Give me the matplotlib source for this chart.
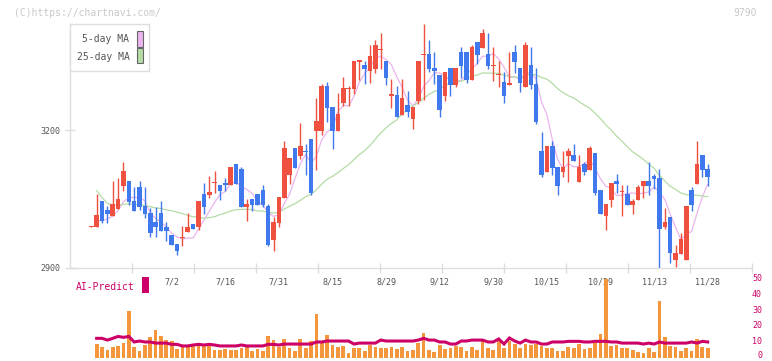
import numpy as np
import pandas as pd
import matplotlib
matplotlib.use("Agg")
import matplotlib.pyplot as plt
from matplotlib.patches import Rectangle
from matplotlib import transforms

# ---------------- data ----------------
opens = [2989, 2989, 3045, 3026, 3013, 3028, 3079, 3089, 3045, 3076,
         3034, 3019, 2999, 3019, 2989, 2971, 2952, 2965, 2978, 2995,
         2989, 3060, 3058, 3084, 3080, 3085, 3080, 3126, 3115, 3032,
         3049, 3060, 3069, 3034, 2960, 2997, 3052, 3102, 3161, 3143,
         3154, 3180, 3198, 3198, 3296, 3250, 3198, 3259, 3290, 3289,
         3349, 3341, 3328, 3333, 3375, 3350, 3275, 3276, 3233, 3254,
         3224, 3263, 3364, 3365, 3335, 3320, 3274, 3335, 3298, 3370,
         3370, 3309, 3392, 3378, 3365, 3340, 3319, 3304, 3299, 3370,
         3335, 3294, 3341, 3300, 3154, 3108, 3165, 3119, 3108, 3143,
         3145, 3087, 3126, 3113, 3150, 3069, 3013, 3047, 3089, 3064,
         3060, 3037, 3047, 3078, 3089, 3100, 3095, 2989, 3010, 2917,
         2929, 2917, 3069, 3082, 3145, 3115]
highs = [2991, 3060, 3045, 3034, 3089, 3095, 3130, 3089, 3076, 3089,
         3076, 3030, 3032, 3045, 3000, 2971, 2952, 2991, 3019, 2995,
         3045, 3085, 3100, 3111, 3080, 3095, 3119, 3126, 3119, 3049,
         3049, 3060, 3080, 3039, 3010, 3054, 3176, 3139, 3161, 3215,
         3170, 3180, 3270, 3300, 3304, 3250, 3280, 3315, 3296, 3350,
         3350, 3350, 3385, 3396, 3411, 3350, 3311, 3296, 3311, 3285,
         3250, 3350, 3431, 3396, 3370, 3320, 3326, 3335, 3335, 3381,
         3370, 3385, 3392, 3420, 3411, 3381, 3350, 3326, 3370, 3385,
         3335, 3392, 3381, 3335, 3195, 3165, 3176, 3119, 3154, 3161,
         3170, 3145, 3130, 3165, 3150, 3069, 3039, 3085, 3104, 3080,
         3080, 3049, 3080, 3089, 3130, 3104, 3115, 3030, 3010, 2949,
         2976, 3034, 3076, 3176, 3145, 3126]
lows = [2989, 2989, 2998, 2998, 3013, 3028, 3068, 3037, 3024, 3026,
        3009, 2966, 2966, 2981, 2959, 2949, 2928, 2947, 2978, 2984,
        2982, 3017, 3052, 3063, 3047, 3067, 3080, 3083, 3032, 3002,
        3024, 3037, 3033, 2947, 2936, 2989, 3052, 3082, 3117, 3137,
        3102, 3058, 3113, 3189, 3217, 3159, 3198, 3252, 3252, 3278,
        3309, 3300, 3302, 3324, 3333, 3298, 3248, 3228, 3233, 3228,
        3202, 3256, 3265, 3326, 3300, 3228, 3263, 3274, 3294, 3313,
        3302, 3309, 3344, 3378, 3333, 3307, 3294, 3259, 3299, 3324,
        3283, 3294, 3289, 3213, 3097, 3108, 3102, 3058, 3097, 3087,
        3132, 3087, 3102, 3113, 3058, 3017, 2982, 3032, 3063, 3013,
        3037, 3017, 3047, 3052, 3058, 3071, 2898, 2984, 2910, 2901,
        2929, 2917, 3023, 3082, 3097, 3078]
closes = [2990, 3015, 3002, 3018, 3039, 3049, 3111, 3044, 3024, 3033,
          3018, 2976, 2988, 2981, 2981, 2949, 2936, 2967, 2989, 2984,
          3045, 3032, 3065, 3086, 3067, 3080, 3119, 3083, 3032, 3039,
          3037, 3037, 3037, 2949, 2999, 3054, 3161, 3139, 3117, 3165,
          3152, 3063, 3219, 3296, 3248, 3198, 3235, 3291, 3291, 3350,
          3350, 3333, 3361, 3385, 3376, 3313, 3276, 3228, 3270, 3239,
          3250, 3350, 3365, 3333, 3328, 3243, 3326, 3298, 3335, 3339,
          3309, 3381, 3363, 3411, 3339, 3341, 3320, 3274, 3300, 3348,
          3302, 3385, 3298, 3217, 3102, 3165, 3117, 3078, 3119, 3154,
          3132, 3119, 3108, 3161, 3063, 3017, 3039, 3085, 3082, 3065,
          3037, 3045, 3076, 3089, 3078, 3093, 2984, 2999, 2932, 2932,
          2962, 3034, 3037, 3126, 3113, 3097]

# 25-day MA for the first days (needs history before the window)
ma25_head = [3068, 3053, 3040, 3037, 3037, 3038, 3039, 3038, 3037, 3035,
             3033, 3030, 3029, 3026, 3024, 3021, 3018, 3014, 3011, 3010,
             3008, 3009, 3011]

date_labels = ["7/2", "7/16", "7/31", "8/15", "8/29", "9/12", "9/30",
               "10/15", "10/29", "11/13", "11/28"]
date_label_idx = [15, 25, 35, 45, 55, 65, 75, 85, 95, 105, 115]

# volume (days 1..115)
volume = [8.6, 6.7, 4.8, 6.7, 7.4, 9.2, 29.4, 6.7, 4.2, 8.0,
          13.0, 17.4, 13.7, 11.1, 10.5, 5.5, 6.7, 8.0, 8.6, 7.4,
          8.6, 7.4, 4.8, 4.8, 5.5, 4.8, 4.8, 6.1, 8.0, 4.2,
          5.5, 4.2, 13.7, 11.1, 6.7, 11.8, 6.1, 4.2, 11.8, 6.1,
          10.5, 27.5, 9.2, 14.3, 8.0, 6.7, 7.4, 2.9, 6.1, 6.1,
          4.2, 8.0, 6.7, 6.1, 6.1, 6.7, 5.5, 6.7, 4.2, 4.8,
          9.2, 15.5, 4.8, 3.6, 8.0, 5.5, 6.1, 7.4, 6.7, 4.2,
          6.7, 4.8, 10.5, 6.1, 4.8, 10.5, 5.8, 10.5, 8.6, 6.1,
          8.6, 8.0, 8.6, 7.4, 6.1, 6.1, 4.2, 4.2, 6.7, 6.1,
          8.6, 5.5, 6.1, 9.2, 14.9, 49.6, 7.4, 8.0, 6.1, 6.1,
          4.8, 3.6, 2.9, 6.1, 3.6, 35.7, 13.0, 7.4, 6.7, 4.2,
          6.1, 4.2, 11.8, 6.7, 6.1]
ai_predict = [12.2, 12.2, 11.1, 12.2, 13.4, 12.8, 13.4, 9.9, 10.5, 9.9,
              9.9, 9.2, 9.2, 9.2, 8.4, 8.4, 7.4, 7.4, 8.0, 8.4,
              8.0, 8.4, 8.0, 7.4, 7.4, 7.4, 7.4, 8.0, 7.4, 7.4,
              7.4, 7.4, 8.4, 8.4, 8.0, 8.6, 8.6, 8.6, 8.6, 8.6,
              8.6, 9.9, 9.9, 10.5, 10.5, 10.5, 10.5, 10.5, 8.6, 9.2,
              9.2, 9.2, 9.2, 11.1, 10.5, 10.5, 10.5, 10.5, 10.5, 10.5,
              11.1, 12.2, 11.1, 11.1, 9.9, 9.9, 8.6, 8.6, 10.5, 10.5,
              11.1, 11.1, 11.1, 9.9, 9.9, 11.8, 8.6, 12.4, 10.5, 9.2,
              11.1, 9.9, 9.9, 8.6, 8.6, 9.9, 9.9, 9.9, 10.3, 10.3,
              10.3, 9.9, 9.9, 10.3, 10.3, 10.3, 9.9, 9.9, 9.2, 9.2,
              9.2, 9.2, 8.6, 9.2, 8.6, 9.9, 9.2, 9.2, 9.2, 9.2,
              9.2, 9.9, 9.2, 10.3, 9.9]
vol_ticks = [0, 10, 20, 30, 40, 50]
price_ticks = [2900, 3200]

# ---------------- styling ----------------
RED = "#F05040"
BLUE = "#4078EE"
PINK = "#EAB4EE"
GREEN = "#B4DCA4"
ORANGE = "#F4963C"
MAGENTA = "#CC0066"
AXIS = "#DDDDDD"
TXT = "#555555"
MONO = "DejaVu Sans Mono"

W, H = 772, 361
fig = plt.figure(figsize=(W / 100, H / 100), dpi=100)


def fx(x):
    return x / W


def fy(y):
    return 1 - y / H


# pixel geometry of the plot area
PX_LEFT, PX_RIGHT = 70.0, 752.3
PX_TOP, PX_BOT = 24.3, 267.7
PX_FIRST, PX_STEP = 91.3, 5.36
xlim = ((PX_LEFT - PX_FIRST) / PX_STEP, (PX_RIGHT - PX_FIRST) / PX_STEP)

ax = fig.add_axes([fx(PX_LEFT), fy(PX_BOT), fx(PX_RIGHT) - fx(PX_LEFT),
                   fy(PX_TOP) - fy(PX_BOT)])
ax.set_xlim(*xlim)
ax.set_ylim(2900, 2900 + (PX_BOT - PX_TOP) / 0.459)

o = np.array(opens, float)
h = np.array(highs, float)
l = np.array(lows, float)
c = np.array(closes, float)
idx = np.arange(len(c))
up = c >= o
cols = np.where(up, RED, BLUE)

# moving averages
cs = pd.Series(c)
ma5 = cs.rolling(5, min_periods=1).mean().to_numpy()
ma25 = cs.rolling(25).mean().to_numpy()
ma25_full = np.concatenate([np.array(ma25_head, float), ma25[24:]])
ax.plot(idx[1:], ma5[1:], color=PINK, lw=0.9, zorder=1)
ax.plot(idx[1:], ma25_full, color=GREEN, lw=0.9, zorder=1)

# candles
ax.vlines(idx, l, h, colors=cols, lw=1.0, zorder=2)
body_bot = np.minimum(o, c)
body_h = np.maximum(np.abs(c - o), 2.5)
ax.bar(idx, body_h, bottom=body_bot, width=0.86, color=cols, linewidth=0,
       zorder=3)

for s in ["top", "right"]:
    ax.spines[s].set_visible(False)
for s in ["left", "bottom"]:
    ax.spines[s].set_color(AXIS)
    ax.spines[s].set_linewidth(1.0)

ax.set_yticks(price_ticks)
ax.set_yticklabels([str(t) for t in price_ticks], fontfamily=MONO,
                   fontsize=6, color=TXT)
ax.tick_params(axis="y", direction="inout", length=6.5, width=1.0,
               color=AXIS, pad=3.5)
ax.set_xticks(np.linspace(xlim[0], xlim[1], 12)[1:])
ax.set_xticklabels([])
ax.tick_params(axis="x", direction="inout", length=6.5, width=1.0,
               color=AXIS)

# date labels
trans = transforms.blended_transform_factory(ax.transData, fig.transFigure)
for i, lab in zip(date_label_idx, date_labels):
    ax.text(i, fy(282), lab, transform=trans, ha="center", va="center",
            fontfamily=MONO, fontsize=6, color=TXT, clip_on=False)

# ---------------- volume panel ----------------
axv = fig.add_axes([fx(PX_LEFT), fy(357.7), fx(PX_RIGHT) - fx(PX_LEFT),
                    fy(278.3) - fy(357.7)])
axv.set_xlim(*xlim)
axv.set_ylim(0, 50)
vidx = np.arange(1, len(volume) + 1)
axv.bar(vidx, volume, width=0.7, color=ORANGE, linewidth=0, zorder=1)
axv.plot(vidx, ai_predict, color=MAGENTA, lw=2.2, zorder=2,
         solid_joinstyle="miter")
for s in axv.spines.values():
    s.set_visible(False)
axv.set_xticks([])
axv.set_yticks([])
axv.patch.set_alpha(0)

# right-hand volume scale labels (right aligned just outside the plot)
vtrans = transforms.blended_transform_factory(fig.transFigure, axv.transData)
for t in vol_ticks:
    tr = vtrans
    if t == 0:
        tr = transforms.offset_copy(vtrans, fig=fig, x=0, y=2.0, units="dots")
    axv.text(fx(762), t, str(t), transform=tr, ha="right", va="center",
             fontfamily=MONO, fontsize=6, color=MAGENTA, clip_on=False)

# AI-Predict label
fig.text(fx(76), fy(286.5), "AI-Predict", color=MAGENTA, fontfamily=MONO,
         fontsize=7, va="center", ha="left")
fig.add_artist(Rectangle((fx(142.3), fy(293)), (149 - 142.3) / W, 16 / H,
                         transform=fig.transFigure, facecolor=MAGENTA,
                         edgecolor="none"))

# header texts
fig.text(fx(14), fy(12.5), "(C)https://chartnavi.com/", color="#C8C8C8",
         fontfamily=MONO, fontsize=7, va="center", ha="left")
fig.text(fx(757), fy(12.5), "9790", color="#C8C8C8", fontfamily=MONO,
         fontsize=7, va="center", ha="right")

# legend box
fig.add_artist(Rectangle((fx(70.3), fy(71.3)), (148.7 - 70.3) / W,
                         (71.3 - 24.3) / H, transform=fig.transFigure,
                         facecolor="white", edgecolor=AXIS, lw=1.0, zorder=5))
for ytxt, lab, colr, ytop, ybot in [(39.5, "5-day MA", PINK, 31.0, 46.7),
                                    (56.5, "25-day MA", GREEN, 48.3, 63.3)]:
    fig.text(fx(129.5), fy(ytxt), lab, color=TXT, fontfamily=MONO,
             fontsize=7, va="center", ha="right", zorder=6)
    fig.add_artist(Rectangle((fx(136.5), fy(ybot)), (142.7 - 136.5) / W,
                             (ybot - ytop) / H, transform=fig.transFigure,
                             facecolor=colr, edgecolor="#666666", lw=0.8,
                             zorder=6))

fig.savefig("out.png", dpi=100)
